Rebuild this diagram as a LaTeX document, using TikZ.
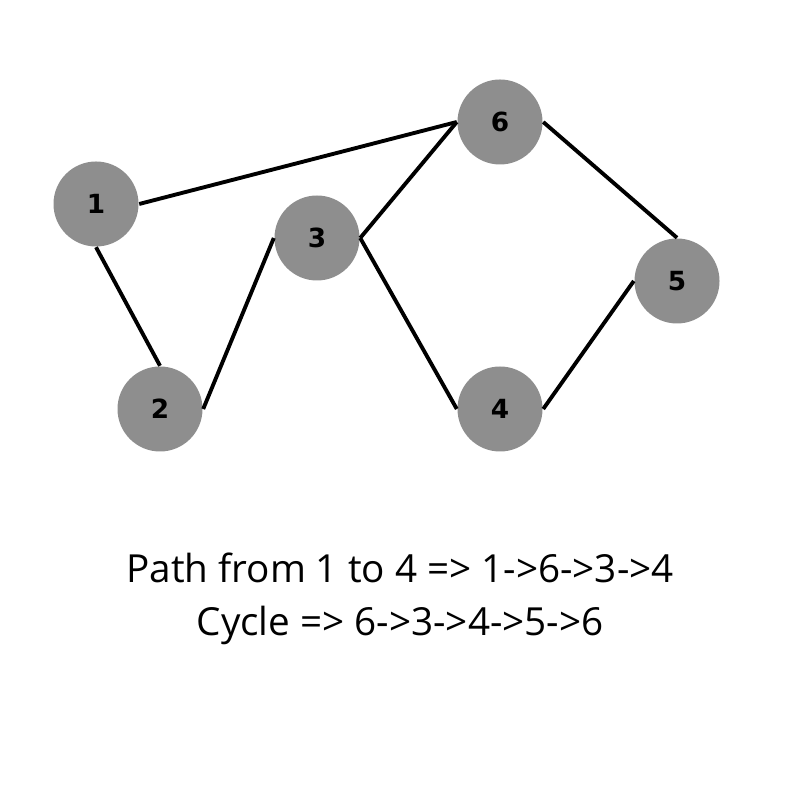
\documentclass[tikz,border=0pt]{standalone}
\usepackage{fontspec}
\setmainfont{Open Sans}
\newfontfamily\labelfont{DejaVu Sans}
\usetikzlibrary{positioning}
\definecolor{vertexgray}{RGB}{142,142,142}
\tikzstyle{vertex} = [circle, fill=vertexgray, minimum size=0.85cm, inner sep=0pt, font=\labelfont\bfseries\fontsize{7.5}{8}\selectfont]
\tikzstyle{edge} = [line width=1.1pt]
\tikzstyle{caption} = [align=center, font=\fontsize{11}{15}\selectfont]

\begin{document}
\begin{tikzpicture}
\useasboundingbox (0,0) rectangle (8,8);

\node [vertex] (v1) at (0.96,5.96) {1};
\node [vertex] (v2) at (1.60,3.91) {2};
\node [vertex] (v3) at (3.17,5.62) {3};
\node [vertex] (v4) at (5.00,3.91) {4};
\node [vertex] (v5) at (6.77,5.19) {5};
\node [vertex] (v6) at (5.00,6.78) {6};

\draw [edge] (v1.east) -- (v6.west);
\draw [edge] (v1.south) -- (v2.north);
\draw [edge] (v2.east) -- (v3.west);
\draw [edge] (v3.east) -- (v6.west);
\draw [edge] (v3.east) -- (v4.west);
\draw [edge] (v4.east) -- (v5.west);
\draw [edge] (v6.east) -- (v5.north);

\node [caption] (paths) at (4.0,2.01) {Path from 1 to 4 => 1->6->3->4\\Cycle => 6->3->4->5->6};
\end{tikzpicture}
\end{document}
